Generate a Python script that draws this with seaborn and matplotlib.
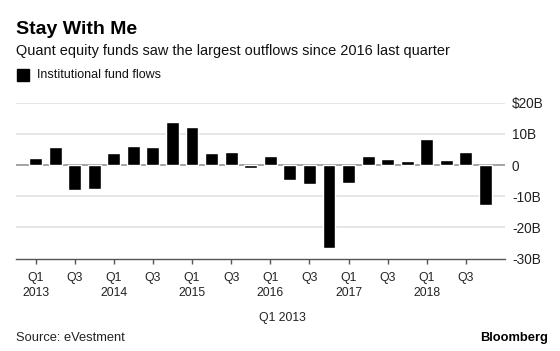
import matplotlib
matplotlib.use("Agg")
import matplotlib.pyplot as plt
import matplotlib.patches as mpatches
import seaborn as sns
import pandas as pd

quarters = [
    "Q1 2013", "Q2 2013", "Q3 2013", "Q4 2013",
    "Q1 2014", "Q2 2014", "Q3 2014", "Q4 2014",
    "Q1 2015", "Q2 2015", "Q3 2015", "Q4 2015",
    "Q1 2016", "Q2 2016", "Q3 2016", "Q4 2016",
    "Q1 2017", "Q2 2017", "Q3 2017", "Q4 2017",
    "Q1 2018", "Q2 2018", "Q3 2018", "Q4 2018",
]
flows = [2.3, 5.9, -8.1, -7.6, 4.0, 6.2, 5.7, 13.7, 12.3, 3.7, 4.3, -0.8,
         2.9, -4.8, -6.2, -26.7, -5.9, 2.9, 2.0, 1.3, 8.4, 1.5, 4.3, -12.8]
xtick_labels = ["Q1\n2013", "Q3", "Q1\n2014", "Q3", "Q1\n2015", "Q3",
                "Q1\n2016", "Q3", "Q1\n2017", "Q3", "Q1\n2018", "Q3"]
ytick_values = [-30, -20, -10, 0, 10, 20]
ytick_labels = ["-30B", "-20B", "-10B", "0", "10B", "$20B"]

df = pd.DataFrame({"quarter": quarters, "flow": flows})

sns.set_theme(style="white")
plt.rcParams["font.family"] = ["Liberation Sans", "DejaVu Sans"]

W, H = 560, 351
fig = plt.figure(figsize=(W / 100, H / 100), dpi=100)
ax = fig.add_axes([16 / W, 1 - 258.5 / H, 489 / W, (258.5 - 102.7) / H])

sns.barplot(data=df, x="quarter", y="flow", color="black", saturation=1,
            width=0.66, ax=ax, zorder=3, order=quarters)

ax.set_xlim(-1, 24)
ax.set_ylim(-30, 20)
ax.set_xlabel("")
ax.set_ylabel("")

ax.grid(False)
for v in ytick_values[1:]:
    ax.axhline(v, color="#e2e2e2", lw=1.2, zorder=1)
ax.axhline(0, color="#9a9a9a", lw=1.2, zorder=2)

ax.yaxis.tick_right()
ax.set_yticks(ytick_values)
ax.set_yticklabels(ytick_labels)
ax.tick_params(axis="y", length=0, pad=5, labelsize=9.8, labelcolor="#222222")

ax.set_xticks(list(range(0, 24, 2)))
ax.set_xticklabels(xtick_labels, linespacing=1.35)
ax.tick_params(axis="x", length=3.5, width=1, color="#555555", pad=6,
               labelsize=8.8, labelcolor="#222222", bottom=True)

for s in ["top", "left", "right"]:
    ax.spines[s].set_visible(False)
ax.spines["bottom"].set_color("#555555")
ax.spines["bottom"].set_linewidth(1)

fig.text(16 / W, 1 - 34.3 / H, "Stay With Me", fontsize=14, fontweight="bold",
         va="baseline", ha="left", color="black")
fig.text(16 / W, 1 - 55 / H,
         "Quant equity funds saw the largest outflows since 2016 last quarter",
         fontsize=10.45, va="baseline", ha="left", color="#111111")
fig.patches.append(mpatches.Rectangle((17 / W, 1 - 80.7 / H), 12.3 / W, 11.7 / H,
                                      transform=fig.transFigure, color="black",
                                      figure=fig))
fig.text(36.7 / W, 1 - 75 / H, "Institutional fund flows", fontsize=9,
         va="center", ha="left", color="#111111")
fig.text(282.7 / W, 1 - 317.7 / H, "Q1 2013", fontsize=8.8, va="center",
         ha="center", color="#222222")
fig.text(16 / W, 1 - 341 / H, "Source: eVestment", fontsize=9.3,
         va="baseline", ha="left", color="#222222")
fig.text(548 / W, 1 - 341 / H, "Bloomberg", fontsize=9.3, fontweight="bold",
         va="baseline", ha="right", color="black")

fig.savefig("out.png", dpi=100)
